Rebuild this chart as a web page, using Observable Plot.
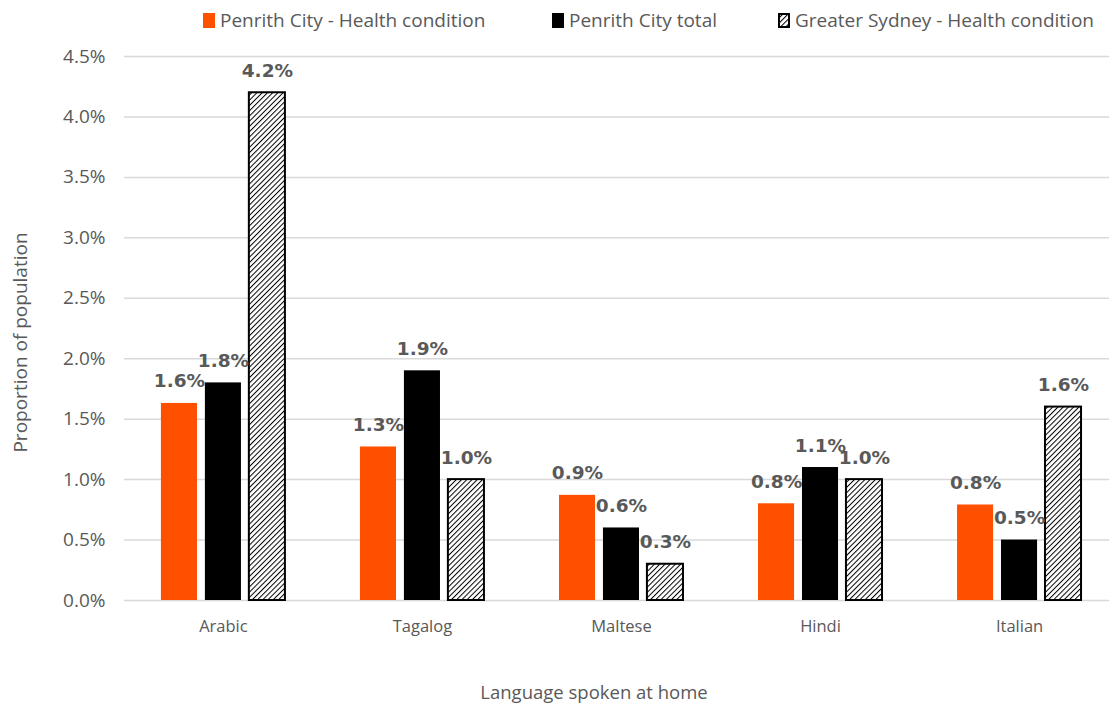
<!DOCTYPE html>
<html>
<head>
<meta charset="utf-8">
<script src="https://cdn.jsdelivr.net/npm/d3@7"></script>
<script src="https://cdn.jsdelivr.net/npm/@observablehq/plot@0.6"></script>
<style>
  html, body { margin: 0; padding: 0; background: #fff; }
  #wrap { position: relative; width: 1109px; height: 704px; font-family: "Open Sans", sans-serif; color: #595959; }
  #legend { position: relative; height: 40px; }
  .item { position: absolute; top: 7px; display: flex; align-items: center; font-size: 19px; white-space: nowrap; }
  .sw { width: 12px; height: 15px; margin-right: 5px; box-sizing: border-box; }
  #chart { position: absolute; left: 0; top: 40px; width: 1109px; height: 664px; }
  #chart > svg { position: absolute; left: 0; top: 0; }
</style>
</head>
<body>
<svg width="0" height="0" style="position:absolute">
  <defs>
    <pattern id="hatch" patternUnits="userSpaceOnUse" width="3.7" height="3.7" patternTransform="rotate(45)">
      <rect width="3.7" height="3.7" fill="#ffffff"></rect>
      <line x1="0.5" y1="0" x2="0.5" y2="3.7" stroke="#000" stroke-width="1"></line>
    </pattern>
  </defs>
</svg>
<div id="wrap">
  <div id="legend"></div>
  <div id="chart"></div>
</div>
<script>
// ---- data ----
const languages = ["Arabic", "Tagalog", "Maltese", "Hindi", "Italian"];
const seriesNames = ["Penrith City - Health condition", "Penrith City total", "Greater Sydney - Health condition"];
const penrithHealth = [1.63, 1.27, 0.87, 0.80, 0.79];
const penrithTotal = [1.80, 1.90, 0.60, 1.10, 0.50];
const sydneyHealth = [4.20, 1.00, 0.30, 1.00, 1.60];
const yTicks = [0, 0.5, 1.0, 1.5, 2.0, 2.5, 3.0, 3.5, 4.0, 4.5];
const seriesColors = ["#ff5000", "#000000", "url(#hatch)"];
const xTitle = "Language spoken at home";
const yTitle = "Proportion of population";

const seriesValues = [penrithHealth, penrithTotal, sydneyHealth];
const rows = languages.flatMap((lang, i) =>
  seriesNames.map((s, j) => ({language: lang, series: s, value: seriesValues[j][i]}))
);
const pct = d => d.toFixed(1) + "%";

// ---- legend ----
const legendLeft = [203, 552, 778];
const legend = document.getElementById("legend");
seriesNames.forEach((s, j) => {
  const it = document.createElement("div");
  it.className = "item";
  it.style.left = legendLeft[j] + "px";
  const sw = document.createElement("div");
  sw.className = "sw";
  if (j === 2) {
    sw.innerHTML = '<svg width="12" height="15" style="display:block"><rect x="1" y="1" width="10" height="13" fill="url(#hatch)" stroke="#000" stroke-width="2"></rect></svg>';
  } else {
    sw.style.background = seriesColors[j];
  }
  it.appendChild(sw);
  const t = document.createElement("span");
  t.textContent = s;
  it.appendChild(t);
  legend.appendChild(it);
});

// ---- shared layout ----
const frame = {width: 1109, height: 664, marginTop: 16, marginBottom: 104, marginLeft: 124, marginRight: 0};
const band = {domain: languages, paddingInner: 0.377, paddingOuter: 0.163, align: 0.569, round: false};
const yScale = {domain: [0, 4.5], label: null};
const baseStyle = {fontFamily: "'Open Sans', sans-serif", color: "#595959", background: "transparent", overflow: "visible"};

// background: grid, axes, titles
const back = Plot.plot({
  ...frame,
  style: baseStyle,
  x: {type: "band", ...band, label: null},
  y: yScale,
  marks: [
    Plot.ruleY(yTicks, {stroke: "#d9d9d9", strokeWidth: 1.5}),
    Plot.axisY(yTicks, {tickSize: 0, tickPadding: 19, tickFormat: pct, fontSize: 19, color: "#595959", label: null}),
    Plot.axisX({tickSize: 0, tickPadding: 20, fontSize: 16.5, color: "#595959", label: null}),
    Plot.text([yTitle], {frameAnchor: "left", textAnchor: "middle", text: d => d, rotate: -90, dx: -104, dy: 14, fontSize: 19, fill: "#595959"}),
    Plot.text([xTitle], {frameAnchor: "bottom", textAnchor: "middle", text: d => d, dx: -23, dy: 98, fontSize: 18.5, fill: "#595959"})
  ]
});

// foreground: grouped bars and value labels
const front = Plot.plot({
  ...frame,
  style: baseStyle,
  fx: {...band, label: null, axis: null},
  x: {domain: seriesNames, paddingInner: 0.18, paddingOuter: 0, round: false, axis: null},
  y: {...yScale, axis: null},
  color: {domain: seriesNames, range: seriesColors},
  marks: [
    Plot.barY(rows, {fx: "language", x: "series", y: "value", fill: "series"}),
    Plot.barY(rows.filter(d => d.series === seriesNames[2]), {fx: "language", x: "series", y: "value", fill: "url(#hatch)", stroke: "#000", strokeWidth: 2}),
    Plot.text(rows, {fx: "language", x: "series", y: "value", text: d => pct(d.value), lineAnchor: "bottom", dy: -16,
      fontFamily: "'DejaVu Sans', sans-serif", fontWeight: "bold", fontSize: 18.5, fill: "#595959"})
  ]
});

const chartEl = document.getElementById("chart");
chartEl.appendChild(back);
chartEl.appendChild(front);
</script>
</body>
</html>
